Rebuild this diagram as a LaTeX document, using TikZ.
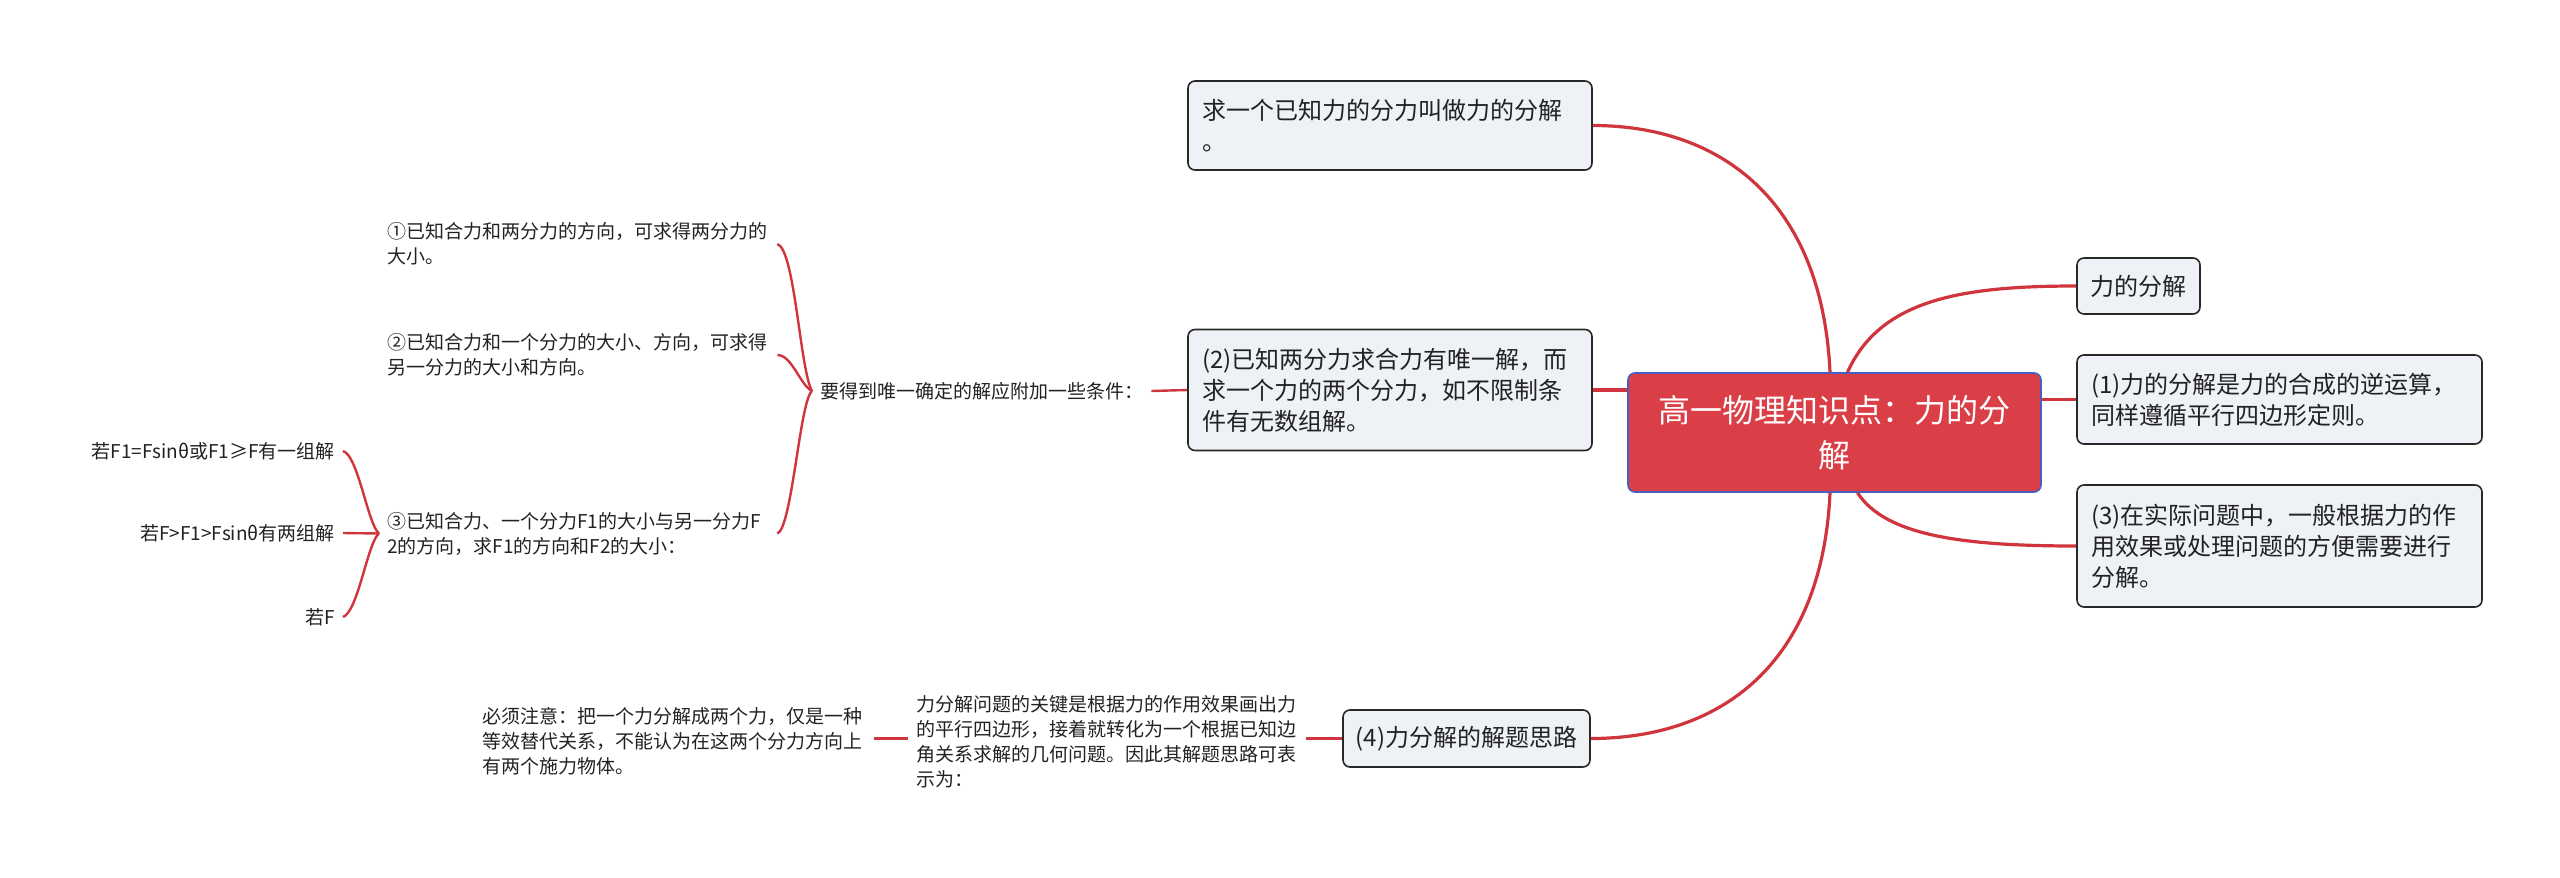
\documentclass[tikz,border=0pt]{standalone}
\usepackage{fontspec}
\setmainfont{Noto Sans CJK SC}
\definecolor{edgered}{RGB}{208,52,60}
\definecolor{boxfill}{RGB}{238,241,245}
\definecolor{boxline}{RGB}{40,40,40}
\definecolor{rootfill}{RGB}{218,62,70}
\definecolor{rootline}{RGB}{70,95,195}
\definecolor{txt}{RGB}{34,34,34}
\tikzset{
 topicbox/.style={draw=boxline, line width=1.6pt, fill=boxfill, rounded corners=7pt, inner xsep=14pt, inner ysep=0pt, align=left, font=\fontsize{24}{31}\selectfont, text=txt},
 roottopic/.style={draw=rootline, line width=1.6pt, fill=rootfill, rounded corners=7pt, inner sep=0pt, align=center, font=\fontsize{32}{45}\selectfont, text=white},
 smalltext/.style={inner sep=8pt, align=left, font=\fontsize{19}{25}\selectfont, text=txt},
 mainedge/.style={draw=edgered, line width=3.2pt},
 subedge/.style={draw=edgered, line width=2.4pt},
}
\begin{document}
\begin{tikzpicture}[x=1pt,y=-1pt]
\useasboundingbox (0,0) rectangle (2560,878);
% root
\node[roottopic, minimum width=413pt, minimum height=119pt, text width=390pt] (root) at (1834.5,432.5) {高一物理知识点：力的分\\解};
% left boxes
\node[topicbox, minimum width=404pt, minimum height=89pt, text width=376pt] (b0) at (1390,125.5) {求一个已知力的分力叫做力的分解\\。};
\node[topicbox, minimum width=404pt, minimum height=121pt, text width=376pt] (b2) at (1390,390) {(2)已知两分力求合力有唯一解，而\\求一个力的两个分力，如不限制条\\件有无数组解。};
\node[topicbox, minimum width=247pt, minimum height=57pt, inner xsep=10pt] (b4) at (1466.5,738.5) {(4)力分解的解题思路};
% right boxes
\node[topicbox, minimum width=123pt, minimum height=56pt, inner xsep=10pt] (b5) at (2138.5,286) {力的分解};
\node[topicbox, minimum width=405pt, minimum height=89pt, text width=377pt] (b1) at (2279.5,399.5) {(1)力的分解是力的合成的逆运算，\\同样遵循平行四边形定则。};
\node[topicbox, minimum width=405pt, minimum height=122pt, text width=377pt] (b3) at (2279.5,546) {(3)在实际问题中，一般根据力的作\\用效果或处理问题的方便需要进行\\分解。};
% plain texts
\node[smalltext, anchor=west] (cond) at (812,391) {要得到唯一确定的解应附加一些条件：};
\node[smalltext, anchor=west, text width=382pt] (c1) at (379,244) {①已知合力和两分力的方向，可求得两分力的\\大小。};
\node[smalltext, anchor=west, text width=382pt] (c2) at (379,355) {②已知合力和一个分力的大小、方向，可求得\\另一分力的大小和方向。};
\node[smalltext, anchor=west, text width=382pt] (c3) at (379,533.5) {③已知合力、一个分力F1的大小与另一分力F\\2的方向，求F1的方向和F2的大小：};
\node[smalltext, anchor=east, align=right] (g1) at (343,451) {若F1=Fsinθ或F1≥F有一组解};
\node[smalltext, anchor=east, align=right] (g2) at (343,533) {若F>F1>Fsinθ有两组解};
\node[smalltext, anchor=east, align=right] (g3) at (343,617) {若F};
\node[smalltext, anchor=west, text width=382pt] (ana) at (908,741.5) {力分解问题的关键是根据力的作用效果画出力\\的平行四边形，接着就转化为一个根据已知边\\角关系求解的几何问题。因此其解题思路可表\\示为：};
\node[smalltext, anchor=west, text width=384pt] (note) at (474,741) {必须注意：把一个力分解成两个力，仅是一种\\等效替代关系，不能认为在这两个分力方向上\\有两个施力物体。};
% main connectors
\draw[mainedge] ([xshift=-4.5pt]root.north) .. controls (1822,200) and (1720,125.5) .. (b0.east);
\draw[mainedge] ([xshift=-4.5pt]root.south) .. controls (1822,665) and (1720,738.5) .. (b4.east);
\draw[mainedge] ([xshift=13pt]root.north) .. controls (1880,300) and (1960,286) .. (b5.west);
\draw[mainedge] ([xshift=23pt]root.south) .. controls (1885,535) and (1960,546) .. (b3.west);
\draw[mainedge] (root.east |- b1.west) -- (b1.west);
\draw[mainedge] (root.west |- b2.east) -- (b2.east);
% sub connectors
\draw[subedge] (b2.west) -- (cond.east);
\draw[subedge] (cond.west) .. controls (800,370) and (795,250) .. (c1.east);
\draw[subedge] (cond.west) .. controls (800,385) and (792,355) .. (c2.east);
\draw[subedge] (cond.west) .. controls (800,400) and (792,528) .. (c3.east);
\draw[subedge] (c3.west) .. controls (368,525) and (358,455) .. (g1.east);
\draw[subedge] (c3.west) -- (g2.east);
\draw[subedge] (c3.west) .. controls (368,541) and (358,612) .. (g3.east);
\draw[subedge] (b4.west) -- (ana.east |- b4.west);
\draw[subedge] (ana.west |- b4.west) -- (note.east |- b4.west);
\end{tikzpicture}
\end{document}
